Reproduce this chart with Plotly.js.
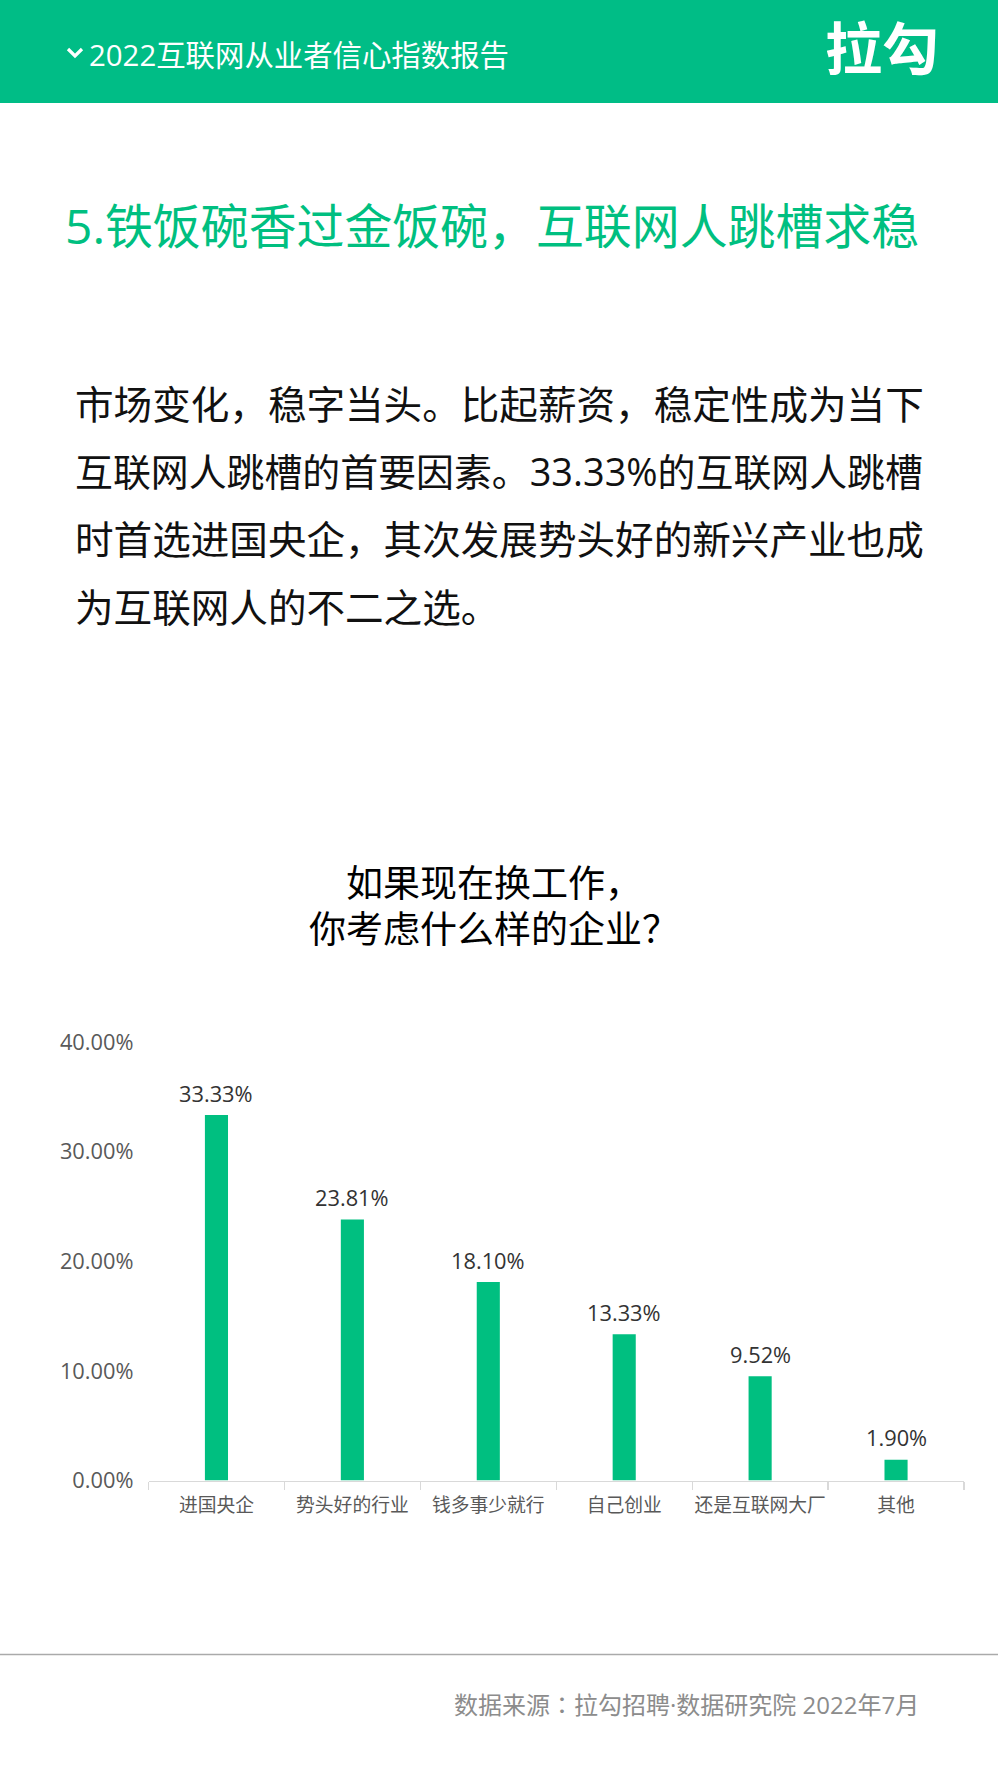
<!DOCTYPE html>
<html><head><meta charset="utf-8">
<script src="https://cdn.plot.ly/plotly-3.0.0.min.js"></script>
<style>html,body{margin:0;padding:0;background:#fff}#c{width:998px;height:1776px}</style>
</head><body><div id="c"></div>
<script>
const categories = ["进国央企","势头好的行业","钱多事少就行","自己创业","还是互联网大厂","其他"];
const values = [33.33,23.81,18.10,13.33,9.52,1.90];
const headerText = "2022互联网从业者信心指数报告";
const logoText = "拉勾";
const sectionTitle = "5.铁饭碗香过金饭碗，互联网人跳槽求稳";
const paragraph = ["市场变化，稳字当头。比起薪资，稳定性成为当下","互联网人跳槽的首要因素。33.33%的互联网人跳槽","时首选进国央企，其次发展势头好的新兴产业也成","为互联网人的不二之选。"];
const paragraphSizes = [38.6,37.9,38.6,38.6];
const paragraphRows = [404,471,539,607];
const chartTitle = ["如果现在换工作，","你考虑什么样的企业？"];
const sourceText = "数据来源：拉勾招聘·数据研究院 2022年7月";

const W=998,H=1776, F='"Open Sans","Noto Sans CJK SC",sans-serif', FTC='"Open Sans","Noto Sans CJK TC",sans-serif';
const GREEN='#00BF80', BAND='#00BD86';
const px=x=>x/W, py=y=>1-y/H;
const note=(text,x,y,size,color,anchor,family)=>({text,x:px(x),y:py(y),xref:'paper',yref:'paper',showarrow:false,
  xanchor:anchor||'left',yanchor:'middle',borderpad:0,font:{family:family||F,size,color}});
const ann=[
  note(headerText,88,55,29.4,'#ffffff'),
  note('<b>'+logoText+'</b>',882,48,57,'#ffffff','center'),
  note(sectionTitle,64,226,47.9,GREEN),
  ...paragraph.map((t,i)=>note(t,74,paragraphRows[i],paragraphSizes[i],'#111111')),
  ...chartTitle.map((t,i)=>note(t,494,882+i*46,37,'#000000','center')),
  note(sourceText,920,1704,24,'#8c8c8c','right',FTC),
  ...categories.map((c,i)=>({x:c,y:values[i],xref:'x',yref:'y',text:values[i].toFixed(2)+'%',showarrow:false,
    xanchor:'center',yanchor:'middle',yshift:22,borderpad:0,font:{family:F,size:21.8,color:'#333333'}}))
];
const shapes=[
  {type:'rect',xref:'paper',yref:'paper',x0:0,x1:1,y0:py(103),y1:1,fillcolor:BAND,line:{width:0},layer:'below'},
  {type:'line',xref:'paper',yref:'paper',x0:0,x1:1,y0:py(1654.5),y1:py(1654.5),line:{color:'#aaaaaa',width:1.3}},
  {type:'path',xref:'paper',yref:'paper',path:`M ${px(68)} ${py(49)} L ${px(75)} ${py(56)} L ${px(82)} ${py(49)}`,line:{color:'#ffffff',width:3.2}}
];
Plotly.newPlot('c',[{
  type:'bar',x:categories,y:values,marker:{color:GREEN,line:{width:0}},cliponaxis:false,hoverinfo:'skip'
}],{
  width:W,height:H,margin:{l:0,r:0,t:0,b:0,pad:0},paper_bgcolor:'#fff',plot_bgcolor:'#fff',showlegend:false,
  bargap:0.83,
  xaxis:{domain:[px(148.5),px(964)],type:'category',tickson:'boundaries',ticks:'outside',ticklen:8,tickwidth:1.3,tickcolor:'#d9d9d9',
    showline:true,linecolor:'#d9d9d9',linewidth:1.5,showgrid:false,zeroline:false,tickangle:0,
    tickfont:{family:F,size:18.8,color:'#595959'},ticklabelstandoff:7},
  yaxis:{domain:[py(1480.5),py(1042)],range:[0,40],dtick:10,tickformat:'.2f',ticksuffix:'%',showgrid:false,zeroline:false,showline:false,ticks:'',
    tickfont:{family:F,size:21.8,color:'#595959'},ticklabelstandoff:14},
  annotations:ann,shapes:shapes
},{staticPlot:true,displayModeBar:false});
</script></body></html>
